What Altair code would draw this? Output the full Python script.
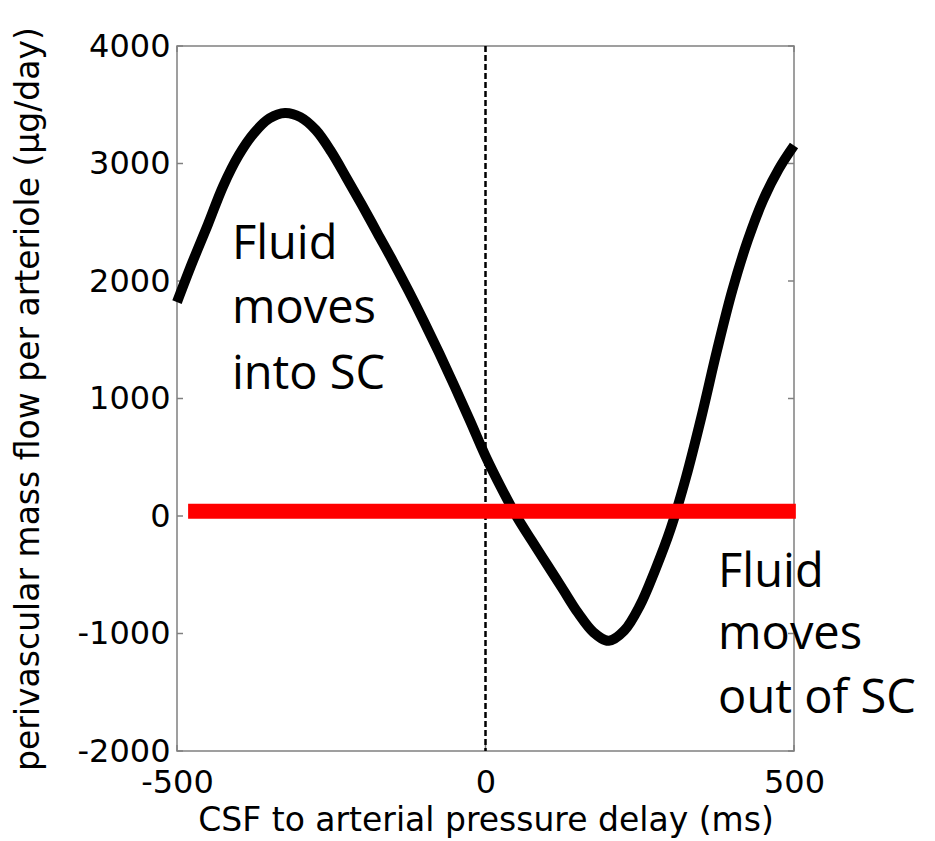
import altair as alt
import pandas as pd

# ---- data ----
delay_ms = [-500, -475, -450, -425, -400, -375, -350, -325, -300, -275, -250, -225,
            -200, -175, -150, -125, -100, -75, -50, -25, 0, 25, 50, 75, 100, 125,
            150, 175, 200, 225, 250, 275, 300, 325, 350, 375, 400, 425, 450, 475, 500]
flow = [1820, 2160, 2480, 2810, 3070, 3260, 3385, 3430, 3395, 3285, 3100, 2875,
        2645, 2406, 2168, 1919, 1658, 1386, 1102, 810, 510, 245, 0, -210, -415, -620,
        -825, -990, -1062, -975, -765, -460, -110, 330, 845, 1405, 1920, 2345, 2689, 2950, 3153]

x_ticks = [-500, 0, 500]
y_ticks = [-2000, -1000, 0, 1000, 2000, 3000, 4000]

red_start, red_end, red_level = -482, 503, 40

ann_labels = ["Fluid", "moves", "into SC", "Fluid", "moves", "out of SC"]
ann_delay = [-411, -411, -411, 377, 377, 377]
ann_flow = [2187, 1643, 1081, -604, -1132, -1677]

W, H = 617, 705
AXIS_FONT = "DejaVu Sans"

curve_df = pd.DataFrame({"delay": delay_ms, "flow": flow})
xt_df = pd.DataFrame({"delay": x_ticks})
yt_df = pd.DataFrame({"flow": y_ticks})
red_df = pd.DataFrame({"delay": [red_start], "delay2": [red_end], "flow": [red_level]})
zero_df = pd.DataFrame({"delay": [0]})
ann_df = pd.DataFrame({"delay": ann_delay, "flow": ann_flow, "label": ann_labels})

xscale = alt.Scale(domain=[-500, 500], nice=False, zero=False)
yscale = alt.Scale(domain=[-2000, 4000], nice=False, zero=False)

xaxis = alt.Axis(values=x_ticks, title="CSF to arterial pressure delay (ms)",
                 titleX=W / 2, titleY=79, titleBaseline="alphabetic", titleAlign="center",
                 labelPadding=16, labelFlush=False, labelExpr="'' + datum.value")
yaxis = alt.Axis(values=y_ticks, title="perivascular mass flow per arteriole (μg/day)",
                 titleX=-149, titleY=H / 2, titleAngle=270, titleBaseline="middle",
                 titleAlign="center", labelPadding=7, labelFlush=False,
                 labelExpr="'' + datum.value")


def X(field="delay"):
    return alt.X(f"{field}:Q", scale=xscale, axis=xaxis)


def Y(field="flow"):
    return alt.Y(f"{field}:Q", scale=yscale, axis=yaxis)


curve = alt.Chart(curve_df).mark_line(color="black", strokeWidth=10,
                                      interpolate="catmull-rom", strokeCap="butt").encode(
    x=X(), y=Y())

zero_line = alt.Chart(zero_df).mark_rule(color="black", strokeWidth=2.5,
                                         strokeDash=[6, 3]).encode(x=X())

red_line = alt.Chart(red_df).mark_rule(color="#ff0000", strokeWidth=15, clip=False).encode(
    x=X(), x2="delay2:Q", y=Y())

tick_style = dict(color="#808080", strokeWidth=1.5)
yt_left = alt.Chart(yt_df).mark_rule(**tick_style).encode(
    y=Y(), x=alt.value(0), x2=alt.value(6))
yt_right = alt.Chart(yt_df).mark_rule(**tick_style).encode(
    y=Y(), x=alt.value(W), x2=alt.value(W - 6))
xt_bottom = alt.Chart(xt_df).mark_rule(**tick_style).encode(
    x=X(), y=alt.value(H), y2=alt.value(H - 6))
xt_top = alt.Chart(xt_df).mark_rule(**tick_style).encode(
    x=X(), y=alt.value(0), y2=alt.value(6))

ann = alt.Chart(ann_df).mark_text(font="Open Sans", fontSize=47, align="left",
                                  baseline="alphabetic", color="black").encode(
    x=X(), y=Y(), text="label:N")

chart = alt.layer(
    yt_left, yt_right, xt_bottom, xt_top, zero_line, curve, red_line, ann
).properties(
    width=W, height=H,
    autosize=alt.AutoSizeParams(type="none"),
    padding={"left": 169, "top": 38, "right": 133, "bottom": 90},
).configure_view(
    stroke="#808080", strokeWidth=1.5
).configure_axis(
    domain=False, ticks=False, grid=False,
    labelFont=AXIS_FONT, labelFontSize=32, labelColor="black",
    titleFont=AXIS_FONT, titleFontSize=33, titleColor="black", titleFontWeight="normal",
)

chart.save("out.html", embed_options={"renderer": "svg", "actions": False})
